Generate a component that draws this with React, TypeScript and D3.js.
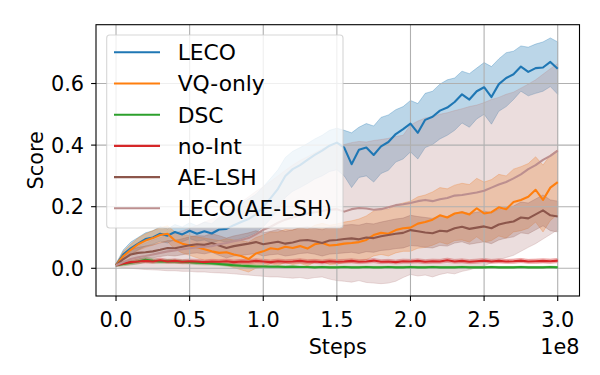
import React from "react";
import * as d3 from "d3";

const STEPS = [0.00,0.05,0.10,0.15,0.20,0.25,0.30,0.35,0.40,0.45,0.50,0.55,0.60,0.65,0.70,0.75,0.80,0.85,0.90,0.95,1.00,1.05,1.10,1.15,1.20,1.25,1.30,1.35,1.40,1.45,1.50,1.55,1.60,1.65,1.70,1.75,1.80,1.85,1.90,1.95,2.00,2.05,2.10,2.15,2.20,2.25,2.30,2.35,2.40,2.45,2.50,2.55,2.60,2.65,2.70,2.75,2.80,2.85,2.90,2.95,3.00];

const LECO_MEAN = [0.010,0.045,0.065,0.080,0.095,0.100,0.112,0.106,0.118,0.110,0.122,0.112,0.120,0.113,0.126,0.128,0.140,0.150,0.160,0.175,0.200,0.228,0.258,0.300,0.322,0.335,0.352,0.368,0.382,0.398,0.408,0.392,0.338,0.385,0.392,0.368,0.396,0.410,0.436,0.452,0.470,0.440,0.482,0.492,0.512,0.522,0.540,0.565,0.548,0.575,0.588,0.556,0.598,0.618,0.630,0.655,0.638,0.650,0.652,0.670,0.648];
const LECO_UP = [0.015,0.060,0.085,0.100,0.115,0.122,0.135,0.128,0.142,0.134,0.148,0.138,0.150,0.145,0.165,0.175,0.195,0.210,0.225,0.240,0.265,0.292,0.320,0.360,0.380,0.392,0.405,0.420,0.432,0.448,0.455,0.448,0.440,0.458,0.470,0.462,0.490,0.498,0.515,0.525,0.545,0.535,0.568,0.575,0.598,0.612,0.618,0.640,0.632,0.650,0.668,0.655,0.680,0.700,0.705,0.722,0.718,0.728,0.735,0.748,0.735];
const LECO_LO = [0.005,0.030,0.045,0.060,0.072,0.078,0.088,0.082,0.094,0.086,0.096,0.088,0.092,0.082,0.090,0.085,0.090,0.096,0.104,0.115,0.135,0.160,0.190,0.230,0.250,0.262,0.275,0.290,0.300,0.314,0.320,0.300,0.262,0.295,0.300,0.280,0.308,0.318,0.345,0.355,0.378,0.355,0.392,0.402,0.420,0.432,0.448,0.472,0.458,0.485,0.500,0.468,0.510,0.525,0.548,0.575,0.560,0.568,0.575,0.590,0.565];

const VQ_MEAN = [0.010,0.040,0.060,0.078,0.090,0.098,0.108,0.112,0.090,0.080,0.074,0.068,0.062,0.055,0.050,0.052,0.045,0.040,0.030,0.048,0.055,0.065,0.062,0.070,0.066,0.072,0.064,0.078,0.082,0.074,0.076,0.080,0.082,0.085,0.092,0.108,0.115,0.112,0.124,0.130,0.132,0.145,0.150,0.158,0.172,0.165,0.178,0.182,0.175,0.195,0.178,0.182,0.198,0.192,0.215,0.222,0.232,0.255,0.222,0.262,0.280];
const VQ_UP = [0.015,0.055,0.078,0.098,0.112,0.122,0.132,0.138,0.118,0.110,0.106,0.102,0.098,0.094,0.090,0.096,0.092,0.090,0.085,0.100,0.108,0.118,0.118,0.126,0.124,0.132,0.126,0.140,0.146,0.140,0.144,0.150,0.154,0.160,0.170,0.186,0.195,0.192,0.205,0.212,0.218,0.232,0.238,0.248,0.262,0.258,0.270,0.276,0.272,0.292,0.280,0.288,0.305,0.300,0.322,0.330,0.340,0.362,0.335,0.368,0.385];
const VQ_LO = [0.005,0.025,0.042,0.058,0.068,0.075,0.084,0.086,0.062,0.050,0.042,0.034,0.026,0.018,0.012,0.010,0.002,-0.005,-0.012,0.000,0.005,0.015,0.010,0.018,0.012,0.016,0.008,0.020,0.022,0.012,0.014,0.018,0.020,0.022,0.028,0.040,0.045,0.040,0.050,0.055,0.055,0.065,0.068,0.075,0.085,0.078,0.090,0.092,0.085,0.102,0.085,0.090,0.105,0.098,0.118,0.122,0.130,0.150,0.118,0.155,0.175];

const DSC_MEAN = [0.010,0.014,0.018,0.022,0.028,0.024,0.022,0.023,0.022,0.021,0.020,0.018,0.017,0.016,0.014,0.012,0.010,0.008,0.007,0.006,0.006,0.005,0.005,0.004,0.005,0.004,0.004,0.003,0.004,0.003,0.003,0.004,0.003,0.003,0.004,0.003,0.003,0.004,0.003,0.003,0.004,0.003,0.003,0.004,0.003,0.003,0.003,0.004,0.003,0.003,0.003,0.004,0.003,0.003,0.003,0.004,0.003,0.003,0.003,0.004,0.003];
const DSC_UP = [0.014,0.020,0.025,0.030,0.036,0.031,0.028,0.029,0.028,0.027,0.026,0.024,0.023,0.021,0.019,0.017,0.015,0.013,0.012,0.011,0.010,0.009,0.009,0.008,0.009,0.007,0.007,0.006,0.007,0.006,0.006,0.007,0.006,0.006,0.007,0.006,0.006,0.007,0.006,0.006,0.007,0.006,0.006,0.007,0.006,0.006,0.006,0.007,0.006,0.006,0.006,0.007,0.006,0.006,0.006,0.007,0.006,0.006,0.006,0.007,0.006];
const DSC_LO = [0.006,0.008,0.011,0.014,0.020,0.017,0.016,0.017,0.016,0.015,0.014,0.012,0.011,0.011,0.009,0.007,0.005,0.003,0.002,0.001,0.002,0.001,0.001,0.000,0.001,0.001,0.001,0.000,0.001,0.000,0.000,0.001,0.000,0.000,0.001,0.000,0.000,0.001,0.000,0.000,0.001,0.000,0.000,0.001,0.000,0.000,0.000,0.001,0.000,0.000,0.000,0.001,0.000,0.000,0.000,0.001,0.000,0.000,0.000,0.001,0.000];

const NOINT_MEAN = [0.010,0.016,0.020,0.022,0.024,0.022,0.026,0.022,0.024,0.021,0.023,0.022,0.020,0.022,0.021,0.023,0.020,0.022,0.021,0.024,0.022,0.020,0.023,0.021,0.022,0.024,0.021,0.022,0.020,0.023,0.021,0.022,0.024,0.021,0.022,0.025,0.021,0.022,0.020,0.023,0.022,0.024,0.021,0.023,0.022,0.026,0.022,0.024,0.021,0.023,0.025,0.022,0.024,0.022,0.023,0.025,0.022,0.023,0.024,0.023,0.025];
const NOINT_UP = [0.014,0.022,0.027,0.029,0.031,0.029,0.033,0.029,0.031,0.028,0.030,0.029,0.027,0.029,0.028,0.030,0.027,0.029,0.028,0.031,0.029,0.027,0.030,0.028,0.029,0.031,0.028,0.029,0.027,0.030,0.028,0.029,0.031,0.028,0.029,0.032,0.028,0.029,0.027,0.030,0.029,0.031,0.028,0.030,0.029,0.033,0.029,0.031,0.028,0.030,0.032,0.029,0.031,0.029,0.030,0.032,0.029,0.030,0.031,0.030,0.032];
const NOINT_LO = [0.006,0.011,0.014,0.016,0.017,0.016,0.019,0.016,0.017,0.015,0.016,0.015,0.014,0.016,0.015,0.016,0.014,0.015,0.015,0.017,0.016,0.014,0.016,0.015,0.016,0.017,0.015,0.016,0.014,0.016,0.015,0.016,0.017,0.015,0.016,0.018,0.015,0.016,0.014,0.016,0.016,0.017,0.015,0.016,0.016,0.019,0.016,0.017,0.015,0.016,0.018,0.016,0.017,0.016,0.016,0.018,0.016,0.016,0.017,0.016,0.018];

const AE_MEAN = [0.010,0.030,0.045,0.050,0.052,0.055,0.060,0.066,0.065,0.070,0.075,0.078,0.076,0.082,0.074,0.066,0.072,0.076,0.080,0.085,0.078,0.082,0.086,0.080,0.084,0.090,0.092,0.088,0.082,0.090,0.092,0.095,0.097,0.094,0.100,0.098,0.104,0.108,0.112,0.115,0.124,0.120,0.116,0.114,0.122,0.120,0.130,0.135,0.128,0.132,0.136,0.130,0.142,0.148,0.152,0.165,0.162,0.175,0.188,0.172,0.168];
const AE_UP = [0.015,0.042,0.060,0.068,0.072,0.076,0.082,0.090,0.090,0.096,0.102,0.106,0.105,0.112,0.106,0.098,0.105,0.110,0.115,0.122,0.115,0.120,0.126,0.120,0.125,0.132,0.135,0.130,0.125,0.134,0.136,0.140,0.142,0.140,0.146,0.144,0.150,0.155,0.160,0.163,0.172,0.168,0.165,0.162,0.170,0.168,0.178,0.184,0.178,0.182,0.186,0.180,0.192,0.198,0.202,0.215,0.212,0.225,0.238,0.222,0.218];
const AE_LO = [0.005,0.018,0.030,0.032,0.032,0.034,0.038,0.042,0.040,0.044,0.048,0.050,0.047,0.052,0.042,0.034,0.040,0.042,0.045,0.048,0.040,0.044,0.046,0.040,0.043,0.048,0.050,0.046,0.040,0.046,0.048,0.050,0.052,0.048,0.054,0.052,0.058,0.060,0.064,0.066,0.074,0.072,0.068,0.066,0.074,0.072,0.082,0.086,0.078,0.082,0.086,0.080,0.092,0.098,0.102,0.115,0.112,0.125,0.138,0.122,0.118];

const LAE_MEAN = [0.010,0.020,0.030,0.036,0.040,0.045,0.050,0.055,0.058,0.062,0.065,0.068,0.070,0.072,0.078,0.082,0.088,0.092,0.098,0.110,0.125,0.135,0.148,0.158,0.165,0.172,0.178,0.182,0.186,0.190,0.192,0.184,0.192,0.196,0.194,0.190,0.192,0.198,0.205,0.208,0.212,0.218,0.222,0.218,0.224,0.228,0.236,0.238,0.242,0.246,0.252,0.262,0.272,0.280,0.292,0.305,0.322,0.335,0.352,0.365,0.382];
const LAE_UP = [0.015,0.040,0.060,0.072,0.082,0.092,0.100,0.108,0.115,0.122,0.130,0.140,0.150,0.160,0.172,0.185,0.200,0.215,0.232,0.250,0.265,0.282,0.300,0.318,0.335,0.350,0.362,0.375,0.388,0.398,0.405,0.402,0.408,0.412,0.410,0.415,0.418,0.422,0.428,0.432,0.465,0.478,0.488,0.492,0.500,0.505,0.512,0.518,0.525,0.530,0.538,0.548,0.555,0.565,0.572,0.585,0.598,0.612,0.630,0.648,0.665];
const LAE_LO = [0.005,0.002,0.000,-0.002,-0.004,-0.005,-0.006,-0.008,-0.008,-0.010,-0.010,-0.012,-0.012,-0.014,-0.015,-0.016,-0.018,-0.020,-0.022,-0.024,-0.026,-0.028,-0.028,-0.030,-0.032,-0.030,-0.034,-0.030,-0.028,-0.035,-0.040,-0.042,-0.045,-0.040,-0.046,-0.048,-0.050,-0.048,-0.042,-0.030,-0.020,-0.025,-0.022,-0.028,-0.020,-0.015,-0.018,-0.010,-0.005,0.002,0.008,0.018,0.028,0.035,0.042,0.055,0.068,0.080,0.095,0.110,0.125];

const SERIES_NAMES = ["LECO", "VQ-only", "DSC", "no-Int", "AE-LSH", "LECO(AE-LSH)"];
const SERIES_COLORS = ["#1f77b4", "#ff7f0e", "#2ca02c", "#d62728", "#8c564b", "#bc8f8f"];
const SERIES_MEANS = [LECO_MEAN, VQ_MEAN, DSC_MEAN, NOINT_MEAN, AE_MEAN, LAE_MEAN];
const SERIES_UPS = [LECO_UP, VQ_UP, DSC_UP, NOINT_UP, AE_UP, LAE_UP];
const SERIES_LOS = [LECO_LO, VQ_LO, DSC_LO, NOINT_LO, AE_LO, LAE_LO];

const X_TICKS = [0, 0.5, 1.0, 1.5, 2.0, 2.5, 3.0];
const Y_TICKS = [0.0, 0.2, 0.4, 0.6];

const W = 600, H = 375;
const L = 96, R = 579.5, T = 24.7, B = 296;
const FONT = "DejaVu Sans";
const FS = 20.8;
const LFS = 21.8;

export default function App() {
  const x = d3.scaleLinear().domain([-0.136, 3.148]).range([L, R]);
  const y = d3.scaleLinear().domain([-0.09, 0.791]).range([B, T]);

  const series = SERIES_NAMES.map((name, si) => {
    const n = Math.min(STEPS.length, SERIES_MEANS[si].length, SERIES_UPS[si].length, SERIES_LOS[si].length);
    const pts = [];
    for (let i = 0; i < n; i++) pts.push({ s: STEPS[i], m: SERIES_MEANS[si][i], u: SERIES_UPS[si][i], l: SERIES_LOS[si][i] });
    return { name, color: SERIES_COLORS[si], pts };
  });

  const area = d3.area<any>().x((d) => x(d.s)).y0((d) => y(d.l)).y1((d) => y(d.u));
  const line = d3.line<any>().x((d) => x(d.s)).y((d) => y(d.m));

  const legX = 106.7, legY = 35, legW = 236.3, legH = 193;
  const rowY0 = 52.3, rowDY = 31.2;

  return (
    <svg width={W} height={H} style={{ position: "fixed", left: 0, top: 0, background: "#fff" }} fontFamily={FONT}>
      <rect x={0} y={0} width={W} height={H} fill="#fff" />
      <defs>
        <clipPath id="plotclip">
          <rect x={L} y={T} width={R - L} height={B - T} />
        </clipPath>
      </defs>
      <g clipPath="url(#plotclip)">
        {series.map((s) => (
          <path key={"a" + s.name} d={area(s.pts) || ""} fill={s.color} fillOpacity={0.3} stroke={s.color} strokeOpacity={0.3} strokeWidth={1} />
        ))}
        {X_TICKS.map((t) => (
          <line key={"gx" + t} x1={x(t)} x2={x(t)} y1={T} y2={B} stroke="#b0b0b0" strokeWidth={1.1} />
        ))}
        {Y_TICKS.map((t) => (
          <line key={"gy" + t} x1={L} x2={R} y1={y(t)} y2={y(t)} stroke="#b0b0b0" strokeWidth={1.1} />
        ))}
        {series.map((s) => (
          <path key={"l" + s.name} d={line(s.pts) || ""} fill="none" stroke={s.color} strokeWidth={2.1} strokeLinejoin="round" />
        ))}
      </g>
      <rect x={L} y={T} width={R - L} height={B - T} fill="none" stroke="#000" strokeWidth={1.1} />
      {X_TICKS.map((t) => (
        <g key={"tx" + t}>
          <line x1={x(t)} x2={x(t)} y1={B} y2={B + 4.9} stroke="#000" strokeWidth={1.1} />
          <text x={x(t)} y={327} textAnchor="middle" fontSize={FS} fill="#000">{t.toFixed(1)}</text>
        </g>
      ))}
      {Y_TICKS.map((t) => (
        <g key={"ty" + t}>
          <line x1={L - 4.9} x2={L} y1={y(t)} y2={y(t)} stroke="#000" strokeWidth={1.1} />
          <text x={84} y={y(t) + 0.365 * FS} textAnchor="end" fontSize={FS} fill="#000">{t.toFixed(1)}</text>
        </g>
      ))}
      <text x={(L + R) / 2} y={354} textAnchor="middle" fontSize={FS} fill="#000">Steps</text>
      <text x={R} y={354} textAnchor="end" fontSize={FS} fill="#000">1e8</text>
      <text transform={`translate(${35 + 0.365 * FS},${(T + B) / 2}) rotate(-90)`} textAnchor="middle" fontSize={FS} fill="#000">Score</text>
      <rect x={legX} y={legY} width={legW} height={legH} rx={3} ry={3} fill="#fff" fillOpacity={0.8} stroke="#cccccc" strokeOpacity={0.8} strokeWidth={1.1} />
      {series.map((s, i) => (
        <g key={"lg" + s.name}>
          <line x1={114} x2={160} y1={rowY0 + i * rowDY} y2={rowY0 + i * rowDY} stroke={s.color} strokeWidth={2.1} />
          <text x={177.7} y={rowY0 + i * rowDY + 0.365 * LFS} fontSize={LFS} fill="#000">{s.name}</text>
        </g>
      ))}
    </svg>
  );
}
